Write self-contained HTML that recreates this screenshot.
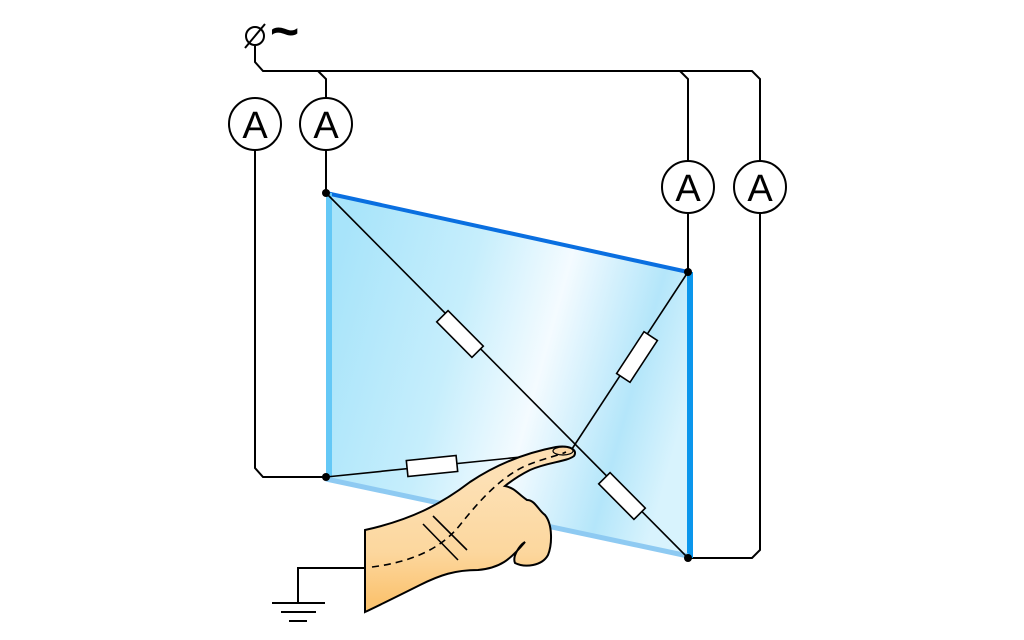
<!DOCTYPE html>
<html><head><meta charset="utf-8"><style>html,body{margin:0;background:#fff}svg{display:block}</style></head>
<body>
<svg width="1024" height="640" viewBox="0 0 1024 640">
<defs>
<linearGradient id="glass" x1="326" y1="300" x2="688" y2="400" gradientUnits="userSpaceOnUse">
<stop offset="0" stop-color="#a8e4fa"/><stop offset="0.35" stop-color="#c6eefc"/><stop offset="0.6" stop-color="#f4fbff"/><stop offset="0.85" stop-color="#b4e6fa"/><stop offset="1" stop-color="#d8f3fd"/></linearGradient>
<linearGradient id="skin" x1="0" y1="480" x2="0" y2="600" gradientUnits="userSpaceOnUse">
<stop offset="0" stop-color="#fde0b4"/><stop offset="0.6" stop-color="#fcd79e"/><stop offset="1" stop-color="#fbc472"/></linearGradient>
</defs>
<g fill="none" stroke="#000" stroke-width="2">
<path d="M255 46 V62 L263 71 H752 L760 79 V161"/>
<path d="M318 71 L326 79 V98"/>
<path d="M680 71 L688 79 V161"/>
<path d="M255 150 V468 L263 477 H326"/>
<path d="M326 150 V193"/>
<path d="M688 213 V272"/>
<path d="M760 213 V550 L752 558 H688"/>
</g>
<g>
<circle cx="255" cy="36" r="9" fill="none" stroke="#000" stroke-width="2"/>
<line x1="245" y1="48" x2="265" y2="24" stroke="#000" stroke-width="2"/>
<text x="270" y="48" font-family="Liberation Sans, sans-serif" font-size="50" font-weight="bold">~</text>
</g>
<polygon points="326,193 688,272 688,558 326,477" fill="url(#glass)"/>
<line x1="326" y1="193" x2="688" y2="272" stroke="#0a6fe0" stroke-width="4"/>
<line x1="690" y1="272" x2="690" y2="558" stroke="#0a96ec" stroke-width="6"/>
<line x1="329" y1="193" x2="329" y2="477" stroke="#64c8f6" stroke-width="6"/>
<line x1="326" y1="479" x2="688" y2="556" stroke="#8ecaf2" stroke-width="5"/>
<g stroke="#000" stroke-width="1.6">
<line x1="326" y1="193" x2="688" y2="558"/>
<line x1="688" y1="272" x2="570" y2="452"/>
<line x1="326" y1="477" x2="570" y2="452"/>
</g>
<g fill="#fff" stroke="#000" stroke-width="1.6">
<rect x="-25" y="-8" width="50" height="16" transform="translate(460,334) rotate(45.2)"/>
<rect x="-25" y="-8" width="50" height="16" transform="translate(637,357) rotate(-56.8)"/>
<rect x="-25" y="-8" width="50" height="16" transform="translate(432,466) rotate(-5.8)"/>
<rect x="-25" y="-8" width="50" height="16" transform="translate(622,496) rotate(45.2)"/>
</g>
<g fill="#000">
<circle cx="326" cy="193" r="4"/><circle cx="688" cy="272" r="4"/><circle cx="326" cy="477" r="4"/><circle cx="688" cy="558" r="4"/>
</g>
<g font-family="Liberation Sans, sans-serif" font-size="38" text-anchor="middle">
<g><circle cx="255" cy="124" r="26" fill="#fff" stroke="#000" stroke-width="2"/><text x="255" y="138">A</text></g>
<g><circle cx="326" cy="124" r="26" fill="#fff" stroke="#000" stroke-width="2"/><text x="326" y="138">A</text></g>
<g><circle cx="688" cy="187" r="26" fill="#fff" stroke="#000" stroke-width="2"/><text x="688" y="201">A</text></g>
<g><circle cx="760" cy="187" r="26" fill="#fff" stroke="#000" stroke-width="2"/><text x="760" y="201">A</text></g>
</g>
<g>
<path d="M365 530 C410 520 440 505 470 482 C500 462 530 452 556 447 C570 445 578 450 574 456 C566 462 548 462 530 470 C518 476 510 482 505 486 C515 488 518 494 527 500 C535 500 538 510 545 515 C553 525 552 545 548 555 C542 566 525 568 515 563 C512 556 520 545 525 542 C510 560 500 568 478 570 C455 570 440 575 420 585 C400 595 380 605 365 612 Z" fill="url(#skin)" stroke="#000" stroke-width="2"/>
<ellipse cx="563" cy="451" rx="10" ry="4" fill="#fcd7a6" stroke="#000" stroke-width="1.2"/>
<path d="M372 567 C410 562 440 550 460 525 C480 500 500 478 525 466 C545 458 560 455 566 452" fill="none" stroke="#000" stroke-width="1.6" stroke-dasharray="7,5"/>
<line x1="423" y1="524" x2="458" y2="560" stroke="#000" stroke-width="1.6"/>
<line x1="433" y1="516" x2="467" y2="550" stroke="#000" stroke-width="1.6"/>
</g>
<g stroke="#000" stroke-width="2" fill="none">
<path d="M366 568 H298 V603"/>
<line x1="272" y1="603" x2="325" y2="603"/>
<line x1="281" y1="612" x2="316" y2="612"/>
<line x1="289" y1="621" x2="307" y2="621"/>
</g>
</svg>
</body></html>
